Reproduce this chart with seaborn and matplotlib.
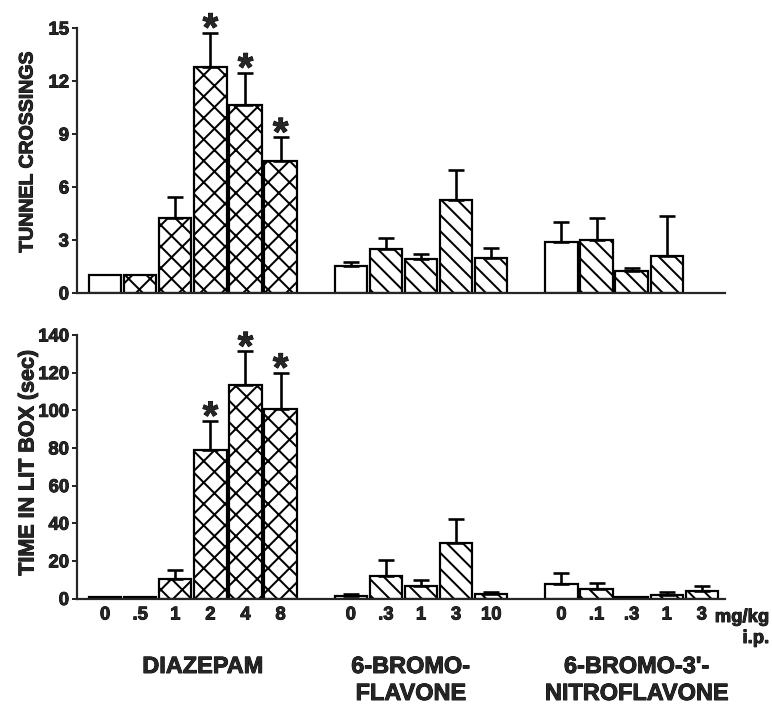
import numpy as np
import pandas as pd
import matplotlib
matplotlib.use("Agg")
import matplotlib.pyplot as plt
import matplotlib.patheffects as pe
import seaborn as sns

# ---------------- data ----------------
diaz_doses = ["0", ".5", "1", "2", "4", "8"]
bromo_doses = ["0", ".3", "1", "3", "10"]
nitro_doses = ["0", ".1", ".3", "1", "3"]

tunnel_diaz = [1.0, 1.0, 4.25, 12.8, 10.65, 7.45]
tunnel_diaz_sem = [np.nan, np.nan, 1.17, 1.93, 1.82, 1.36]
tunnel_bromo = [1.53, 2.47, 1.9, 5.26, 2.0]
tunnel_bromo_sem = [0.21, 0.66, 0.3, 1.7, 0.53]
tunnel_nitro = [2.87, 3.02, 1.25, 2.11, np.nan]
tunnel_nitro_sem = [1.15, 1.21, 0.18, 2.25, np.nan]

lit_diaz = [0.6, 0.6, 10.4, 78.7, 113.4, 100.8]
lit_diaz_sem = [0.3, 0.3, 4.6, 15.6, 17.9, 19.1]
lit_bromo = [1.2, 12.2, 6.8, 29.4, 2.2]
lit_bromo_sem = [1.1, 8.5, 3.0, 13.1, 1.4]
lit_nitro = [7.6, 4.9, 0.6, 2.1, 4.0]
lit_nitro_sem = [5.7, 3.4, 0.3, 1.4, 2.7]

# significant (asterisk) flags
sig_diaz_tunnel = [False, False, False, True, True, True]
sig_diaz_lit = [False, False, False, True, True, True]

group_names = [["DIAZEPAM"], ["6-BROMO-", "FLAVONE"], ["6-BROMO-3'-", "NITROFLAVONE"]]

# ---------------- layout helpers ----------------
DPI = 193
W, H = 772, 705
def pt(px):
    return px * 72.0 / DPI

THICK = [pe.withStroke(linewidth=pt(0.9), foreground="black")]

starts = [0, 7, 13]
dose_lists = [diaz_doses, bromo_doses, nitro_doses]
hatch_cross = "xxx"
hatch_diag = "\\\\\\\\"

def build(vals_list, sems_list, sig_list):
    rows = []
    for g, (vals, sems) in enumerate(zip(vals_list, sems_list)):
        for i, (v, s) in enumerate(zip(vals, sems)):
            if np.isnan(v):
                continue
            if i == 0:
                h = ""
            else:
                h = hatch_cross if g == 0 else hatch_diag
            sig = sig_list[i] if g == 0 else False
            rows.append(dict(pos=starts[g] + i, value=v, sem=s, hatch=h, sig=sig))
    return pd.DataFrame(rows)

df_top = build([tunnel_diaz, tunnel_bromo, tunnel_nitro],
               [tunnel_diaz_sem, tunnel_bromo_sem, tunnel_nitro_sem], sig_diaz_tunnel)
df_bot = build([lit_diaz, lit_bromo, lit_nitro],
               [lit_diaz_sem, lit_bromo_sem, lit_nitro_sem], sig_diaz_lit)

sns.set_style("ticks")
plt.rcParams["font.family"] = ["Liberation Sans", "DejaVu Sans"]
plt.rcParams["font.weight"] = "bold"
plt.rcParams["hatch.linewidth"] = pt(2.0)
plt.rcParams["hatch.color"] = "black"

fig = plt.figure(figsize=(W / DPI, H / DPI), dpi=DPI)
left, right = 77 / W, 725 / W
ax_top = fig.add_axes([left, 1 - 293 / H, right - left, (293 - 28) / H])
ax_bot = fig.add_axes([left, 1 - 598.5 / H, right - left, (598.5 - 335) / H])

xlim = (-0.8, 17.66)

def draw(ax, df, ylim, yticks):
    sns.barplot(data=df, x="pos", y="value", native_scale=True, color="white",
                saturation=1, edgecolor="black", linewidth=pt(2.2), width=0.92,
                errorbar=None, ax=ax)
    bars = sorted(ax.patches, key=lambda p: p.get_x())
    for p, h in zip(bars, df.sort_values("pos")["hatch"]):
        p.set_hatch(h)
        p.set_facecolor("white")
        p.set_edgecolor("black")
    ok = df.dropna(subset=["sem"])
    ax.errorbar(ok["pos"], ok["value"], yerr=[np.zeros(len(ok)), ok["sem"]],
                fmt="none", ecolor="black", elinewidth=pt(2.6), capsize=pt(8),
                capthick=pt(2.6), zorder=1)
    for _, r in df[df["sig"]].iterrows():
        ax.annotate("*", xy=(r["pos"], r["value"] + r["sem"]), xytext=(0, pt(-8)),
                    textcoords="offset points", ha="center", va="baseline",
                    fontsize=pt(40), fontweight="bold", path_effects=THICK)
    ax.set_xlim(*xlim)
    ax.set_ylim(*ylim)
    ax.set_yticks(yticks)
    ax.set_yticklabels([str(t) for t in yticks])
    ax.set_xlabel("")
    ax.set_ylabel("")
    sns.despine(ax=ax)
    for s in ["left", "bottom"]:
        ax.spines[s].set_linewidth(pt(2.2))
    ax.tick_params(axis="y", length=pt(5), width=pt(2), pad=pt(3), labelsize=pt(18.5))
    ax.tick_params(axis="x", length=0, pad=pt(8), labelsize=pt(18.5))
    for lab in ax.get_yticklabels():
        lab.set_path_effects(THICK)

draw(ax_top, df_top, (0, 15), list(range(0, 16, 3)))
draw(ax_bot, df_bot, (0, 140), list(range(0, 141, 20)))

ax_top.set_xticks([])
ticks, labels = [], []
for g, doses in enumerate(dose_lists):
    for i, d in enumerate(doses):
        ticks.append(starts[g] + i)
        labels.append(d)
ax_bot.set_xticks(ticks)
ax_bot.set_xticklabels(labels, fontweight="bold")
for lab in ax_bot.get_xticklabels():
    lab.set_path_effects(THICK)

def ftext(x, y, s, **kw):
    fig.text(x / W, 1 - y / H, s, path_effects=THICK, **kw)

ftext(28, 152, "TUNNEL CROSSINGS", rotation=90, ha="center", va="center",
      fontsize=pt(19.5), fontweight="bold")
ftext(28, 463, "TIME IN LIT BOX (sec)", rotation=90, ha="center", va="center",
      fontsize=pt(21.5), fontweight="bold")

ftext(769, 622, "mg/kg", ha="right", va="baseline", fontsize=pt(18.5), fontweight="bold")
ftext(769, 643, "i.p.", ha="right", va="baseline", fontsize=pt(18.5), fontweight="bold")

centers = [203, 411, 637]
for c, lines in zip(centers, group_names):
    for k, line in enumerate(lines):
        ftext(c, 673 + 27 * k, line, ha="center", va="baseline",
              fontsize=pt(23.5), fontweight="bold")

fig.savefig("out.png", dpi=DPI)
